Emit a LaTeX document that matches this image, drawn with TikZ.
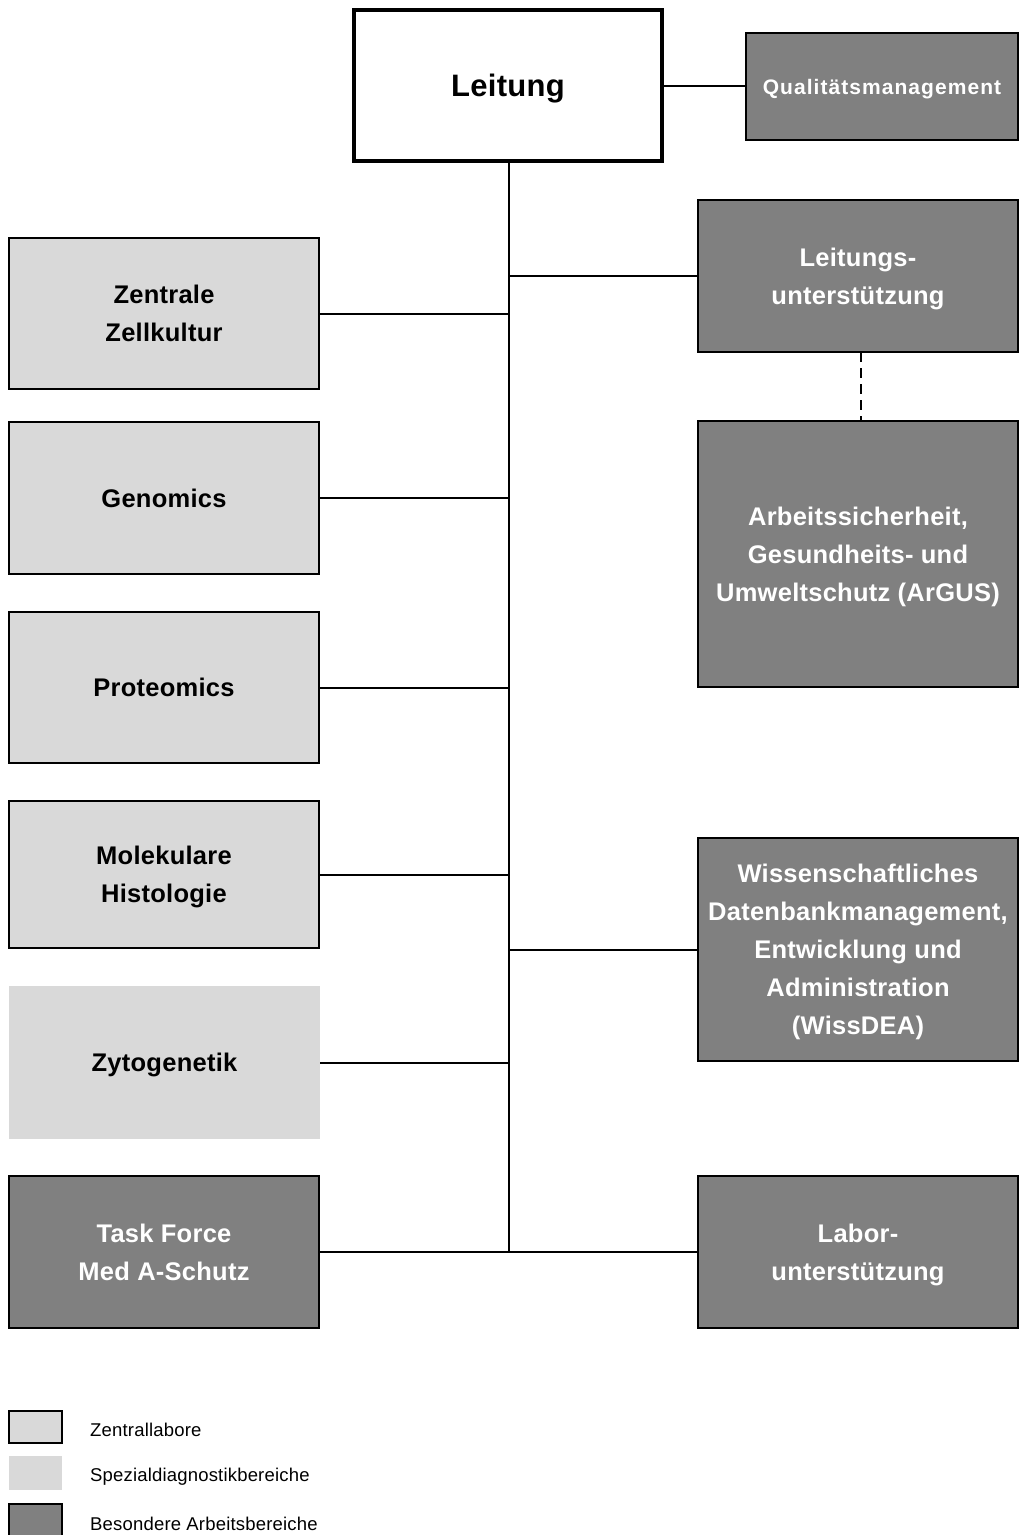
\documentclass[tikz,border=0pt]{standalone}
\usepackage{fontspec}
\setmainfont{Liberation Sans}
\newfontfamily\boxfont[LetterSpace=1]{Liberation Sans}
\newfontfamily\qmfont[LetterSpace=5]{Liberation Sans}
\newfontfamily\legfont[LetterSpace=1]{Liberation Sans}
\definecolor{lgray}{HTML}{D9D9D9}
\definecolor{dgray}{HTML}{808080}
\tikzset{
  base/.style={rectangle, inner sep=0pt, outer sep=0pt, align=center, text depth=0pt,
    font=\boxfont\bfseries\fontsize{25.5}{38}\selectfont},
  lightbox/.style={base, fill=lgray, draw=black, line width=2pt},
  specbox/.style={base, fill=lgray},
  darkbox/.style={base, fill=dgray, draw=black, line width=2pt, text=white},
  headbox/.style={base, fill=white, draw=black, line width=3.5pt,
    font=\boxfont\bfseries\fontsize{31}{36}\selectfont},
  conn/.style={line width=2pt},
  dashconn/.style={line width=2pt, dash pattern=on 10pt off 6pt},
  legtext/.style={anchor=west, inner sep=0pt, font=\legfont\fontsize{18.5}{22}\selectfont}
}
\begin{document}
\begin{tikzpicture}[x=1pt, y=-1pt]
\useasboundingbox (0,0) rectangle (1019,1535);
% head
\node[headbox, minimum width=308, minimum height=151] (lei) at (508,85.5) {Leitung};
\node[darkbox, minimum width=272, minimum height=107, font=\qmfont\bfseries\fontsize{21}{24}\selectfont] (qm) at (882,86.5) {Qualitätsmanagement};
% right column
\node[darkbox, minimum width=320, minimum height=152] (lu) at (858,276) {Leitungs-\\unterstützung};
\node[darkbox, minimum width=320, minimum height=266] (arg) at (858,554) {Arbeitssicherheit,\\Gesundheits- und\\Umweltschutz (ArGUS)};
\node[darkbox, minimum width=320, minimum height=223] (wiss) at (858,949.5) {Wissenschaftliches\\Datenbankmanagement,\\Entwicklung und\\Administration\\(WissDEA)};
\node[darkbox, minimum width=320, minimum height=152] (lab) at (858,1252) {Labor-\\unterstützung};
% left column
\node[lightbox, minimum width=310, minimum height=151] (zz) at (164,313.5) {Zentrale\\Zellkultur};
\node[lightbox, minimum width=310, minimum height=152] (gen) at (164,498) {Genomics};
\node[lightbox, minimum width=310, minimum height=151] (pro) at (164,687.5) {Proteomics};
\node[lightbox, minimum width=310, minimum height=147] (mh) at (164,874.5) {Molekulare\\Histologie};
\node[specbox, minimum width=311, minimum height=153] (zy) at (164.5,1062.5) {Zytogenetik};
\node[darkbox, minimum width=310, minimum height=152] (tf) at (164,1252) {Task Force\\Med A-Schutz};
% trunk
\coordinate (tbot) at (509,1252);
\draw[conn] (lei.south -| tbot) -- (tbot);
\draw[conn] (lei.east) -- (lei.east -| qm.west);
\draw[conn] (lu.west -| tbot) -- (lu.west);
\draw[conn] (wiss.west -| tbot) -- (wiss.west);
\draw[conn] (tf.east) -- (lab.west);
\draw[conn] (zz.east) -- (zz.east -| tbot);
\draw[conn] (gen.east) -- (gen.east -| tbot);
\draw[conn] (pro.east) -- (pro.east -| tbot);
\draw[conn] (mh.east) -- (mh.east -| tbot);
\draw[conn] (zy.east) -- (zy.east -| tbot);
\draw[dashconn] ([xshift=3pt]lu.south) -- ([xshift=3pt]arg.north);
% legend
\node[lightbox, minimum width=53, minimum height=32] (l1) at (35.5,1427) {};
\node[specbox, minimum width=53, minimum height=34] (l2) at (35.5,1473) {};
\node[darkbox, minimum width=53, minimum height=32] (l3) at (35.5,1519.5) {};
\node[legtext] (t1) at (90,1430) {Zentrallabore};
\node[legtext] (t2) at (90,1477) {Spezialdiagnostikbereiche};
\node[legtext] (t3) at (90,1524) {Besondere Arbeitsbereiche};
\end{tikzpicture}
\end{document}
